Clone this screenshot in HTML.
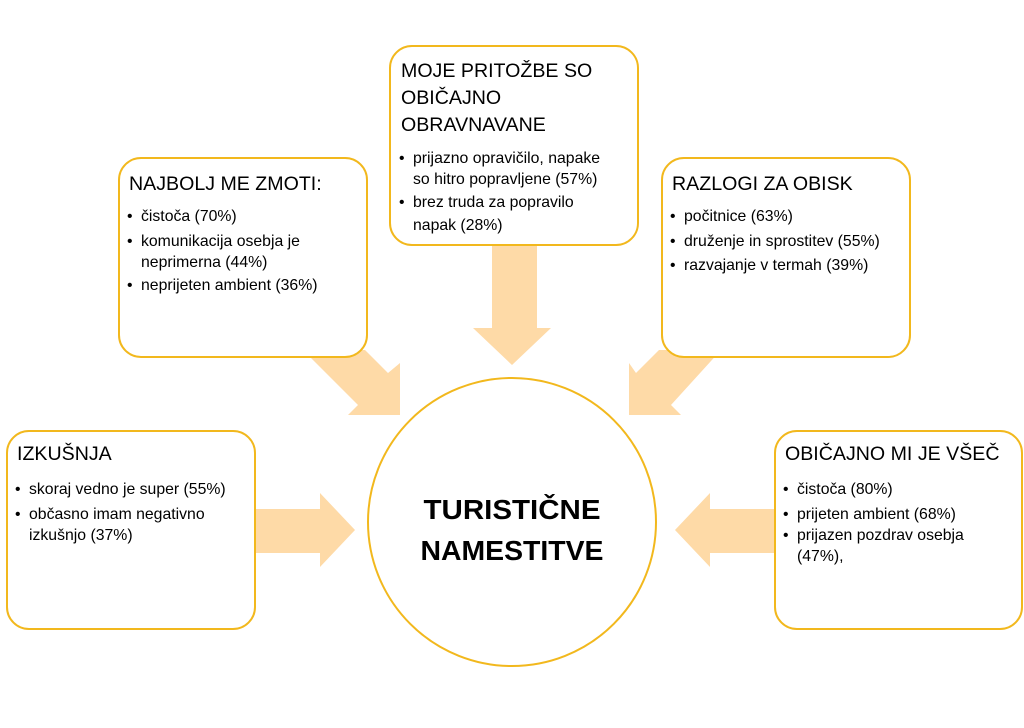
<!DOCTYPE html>
<html><head><meta charset="utf-8"><style>
html,body{margin:0;padding:0;background:#fff;}
svg{display:block;}
text{font-family:"Liberation Sans",sans-serif;fill:#000;}
.t{font-size:19.6px;}
.b{font-size:15.8px;}
</style></head><body>
<svg width="1024" height="728" viewBox="0 0 1024 728" xmlns="http://www.w3.org/2000/svg">
<g fill="#fedaa7">
<polygon points="492,240 537,240 537,328 551,328 512,365 473,328 492,328"/>
<polygon points="250,509 320,509 320,493 355,530 320,567 320,553 250,553"/>
<polygon points="780,509 710,509 710,493 675,530 710,567 710,553 780,553"/>
<polygon points="303,350 365,350 388,373 400,363 400,415 348,415 358,405"/>
<polygon points="721,350 659,350 636,373 629,363 629,415 681,415 671,405"/>
</g>
<g fill="#fff" stroke="#f2b81d" stroke-width="2">
<rect x="390" y="46" width="248" height="199" rx="22"/>
<rect x="119" y="158" width="248" height="199" rx="22"/>
<rect x="662" y="158" width="248" height="199" rx="22"/>
<rect x="7" y="431" width="248" height="198" rx="22"/>
<rect x="775" y="431" width="247" height="198" rx="22"/>
<circle cx="512" cy="522" r="144"/>
</g>
<text class="t" x="401" y="77">MOJE PRITOŽBE SO</text>
<text class="t" x="401" y="104">OBIČAJNO</text>
<text class="t" x="401" y="131">OBRAVNAVANE</text>
<text class="b" x="399" y="163">•</text><text class="b" x="413" y="163">prijazno opravičilo, napake</text>
<text class="b" x="413" y="184">so hitro popravljene (57%)</text>
<text class="b" x="399" y="207">•</text><text class="b" x="413" y="207">brez truda za popravilo</text>
<text class="b" x="413" y="230">napak (28%)</text>

<text class="t" x="129" y="190">NAJBOLJ ME ZMOTI:</text>
<text class="b" x="127" y="221">•</text><text class="b" x="141" y="221">čistoča (70%)</text>
<text class="b" x="127" y="246">•</text><text class="b" x="141" y="246">komunikacija osebja je</text>
<text class="b" x="141" y="267">neprimerna (44%)</text>
<text class="b" x="127" y="290">•</text><text class="b" x="141" y="290">neprijeten ambient (36%)</text>

<text class="t" x="672" y="190">RAZLOGI ZA OBISK</text>
<text class="b" x="670" y="221">•</text><text class="b" x="684" y="221">počitnice (63%)</text>
<text class="b" x="670" y="246">•</text><text class="b" x="684" y="246">druženje in sprostitev (55%)</text>
<text class="b" x="670" y="270">•</text><text class="b" x="684" y="270">razvajanje v termah (39%)</text>

<text class="t" x="17" y="460">IZKUŠNJA</text>
<text class="b" x="15" y="494">•</text><text class="b" x="29" y="494">skoraj vedno je super (55%)</text>
<text class="b" x="15" y="519">•</text><text class="b" x="29" y="519">občasno imam negativno</text>
<text class="b" x="29" y="540">izkušnjo (37%)</text>

<text class="t" x="785" y="460">OBIČAJNO MI JE VŠEČ</text>
<text class="b" x="783" y="494">•</text><text class="b" x="797" y="494">čistoča (80%)</text>
<text class="b" x="783" y="519">•</text><text class="b" x="797" y="519">prijeten ambient (68%)</text>
<text class="b" x="783" y="540">•</text><text class="b" x="797" y="540">prijazen pozdrav osebja</text>
<text class="b" x="797" y="561">(47%),</text>

<text x="512" y="519" text-anchor="middle" font-size="28" font-weight="bold" textLength="177" lengthAdjust="spacingAndGlyphs">TURISTIČNE</text>
<text x="512" y="560" text-anchor="middle" font-size="28" font-weight="bold" textLength="183" lengthAdjust="spacingAndGlyphs">NAMESTITVE</text>
</svg>
</body></html>
